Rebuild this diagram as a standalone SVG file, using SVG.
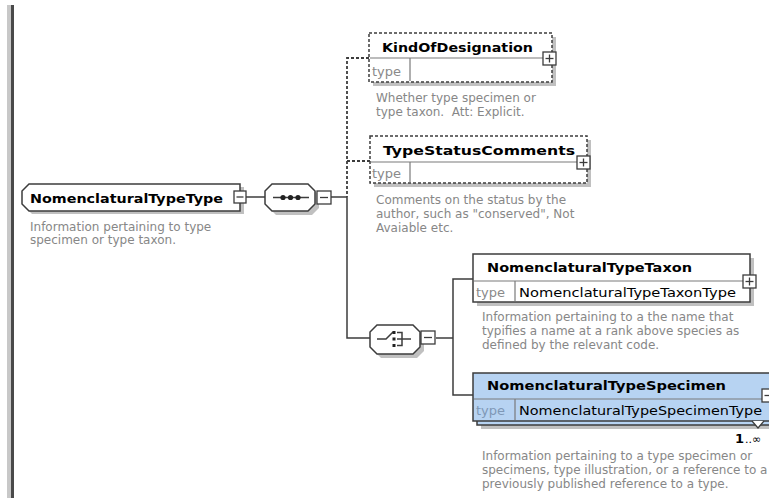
<svg xmlns="http://www.w3.org/2000/svg" width="769" height="498" viewBox="0 0 769 498">
  <style>
    .bg { fill: #ffffff; }
    .shadow { fill: #c0c0c0; stroke: none; }
    .box { fill: #ffffff; stroke: #3c3c3c; stroke-width: 1.5; }
    .opt { fill: #ffffff; stroke: #3c3c3c; stroke-width: 1.5; stroke-dasharray: 3 2; }
    .sel { fill: #b7d3f2; stroke: #3c3c3c; stroke-width: 1.5; }
    .sep { stroke: #7a7a7a; stroke-width: 1.2; fill: none; }
    .conn { stroke: #3c3c3c; stroke-width: 1.5; fill: none; }
    .dot { stroke: #3c3c3c; stroke-width: 1.8; fill: none; stroke-dasharray: 3 2; }
    .pm { fill: #ffffff; stroke: #3c3c3c; stroke-width: 1.3; }
    .pmline { stroke: #3c3c3c; stroke-width: 1.3; }
    .name { font-family: "DejaVu Sans", "Liberation Sans", sans-serif; font-weight: bold; font-size: 13px; fill: #000000; }
    .tlab { font-family: "DejaVu Sans", "Liberation Sans", sans-serif; font-size: 13px; fill: #8a8a8a; }
    .tval { font-family: "DejaVu Sans", "Liberation Sans", sans-serif; font-size: 12px; fill: #000000; }
    .desc { font-family: "DejaVu Sans", "Liberation Sans", sans-serif; font-size: 12px; fill: #878787; white-space: pre; }
    .occ { font-family: "DejaVu Sans", "Liberation Sans", sans-serif; font-size: 11px; fill: #000000; }
  </style>

  <rect class="bg" x="0" y="0" width="769" height="498"/>

  <!-- left frame bar -->
  <rect x="7" y="5" width="4" height="493" fill="#c8c8c8"/>
  <rect x="11" y="5" width="3" height="493" fill="#4a4a4a"/>

  <!-- connectors -->
  <g id="connectors">
    <line class="conn" x1="246" y1="197" x2="265" y2="197"/>
    <line class="conn" x1="331" y1="197" x2="347" y2="197"/>
    <polyline class="conn" points="347,197 347,338 370,338"/>
    <polyline class="dot" points="369,58 347,58 347,197"/>
    <line class="dot" x1="347" y1="161" x2="370" y2="161"/>
    <line class="conn" x1="436" y1="338" x2="453" y2="338"/>
    <polyline class="conn" points="473,279 453,279 453,395 473,395"/>
  </g>

  <!-- root complex type -->
  <g id="NomenclaturalTypeType">
    <polygon class="shadow" points="32,187 244,187 244,214 32,214 25,207 25,194"/>
    <polygon class="box" points="29,184 240,184 240,211 29,211 22,204 22,191"/>
    <text class="name" x="30" y="203" textLength="193" lengthAdjust="spacingAndGlyphs">NomenclaturalTypeType</text>
    <rect class="pm" x="234" y="191" width="12" height="12"/>
    <line class="pmline" x1="236.5" y1="197" x2="243.5" y2="197"/>
    <text class="desc" x="30" y="231">Information pertaining to type</text>
    <text class="desc" x="30" y="244">specimen or type taxon.</text>
  </g>

  <!-- sequence compositor -->
  <g id="sequence">
    <polygon class="shadow" points="276,188 312,188 319,195 319,208 312,215 276,215 269,208 269,195"/>
    <polygon class="box" points="272,184 308,184 315,191 315,204 308,211 272,211 265,204 265,191"/>
    <line class="conn" x1="273" y1="197.5" x2="309" y2="197.5"/>
    <circle cx="283" cy="197.5" r="2.6" fill="#222"/>
    <circle cx="290.5" cy="197.5" r="2.6" fill="#222"/>
    <circle cx="298" cy="197.5" r="2.6" fill="#222"/>
    <rect class="pm" x="317" y="191" width="14" height="13"/>
    <line class="pmline" x1="320" y1="197.5" x2="328" y2="197.5"/>
  </g>

  <!-- optional element: KindOfDesignation -->
  <g id="KindOfDesignation">
    <rect class="shadow" x="373" y="37" width="183" height="49"/>
    <rect class="opt" x="369" y="33" width="183" height="49"/>
    <line class="sep" x1="370" y1="58" x2="551" y2="58"/>
    <line class="sep" x1="410" y1="58" x2="410" y2="81"/>
    <text class="name" x="382" y="52" textLength="151" lengthAdjust="spacingAndGlyphs">KindOfDesignation</text>
    <text class="tlab" x="372" y="76">type</text>
    <rect class="pm" x="543" y="52" width="13" height="13"/>
    <line class="pmline" x1="545.5" y1="58.5" x2="553.5" y2="58.5"/>
    <line class="pmline" x1="549.5" y1="54.5" x2="549.5" y2="62.5"/>
    <text class="desc" x="376" y="102">Whether type specimen or</text>
    <text class="desc" x="376" y="116" xml:space="preserve">type taxon.  Att: Explicit.</text>
  </g>

  <!-- optional element: TypeStatusComments -->
  <g id="TypeStatusComments">
    <rect class="shadow" x="374" y="140" width="217" height="47"/>
    <rect class="opt" x="370" y="136" width="217" height="47"/>
    <line class="sep" x1="371" y1="162" x2="586" y2="162"/>
    <line class="sep" x1="410" y1="162" x2="410" y2="182"/>
    <text class="name" x="383" y="155" textLength="192" lengthAdjust="spacingAndGlyphs">TypeStatusComments</text>
    <text class="tlab" x="372" y="178">type</text>
    <rect class="pm" x="577" y="156" width="13" height="13"/>
    <line class="pmline" x1="579.5" y1="162.5" x2="587.5" y2="162.5"/>
    <line class="pmline" x1="583.5" y1="158.5" x2="583.5" y2="166.5"/>
    <text class="desc" x="376" y="204">Comments on the status by the</text>
    <text class="desc" x="376" y="218">author, such as "conserved", Not</text>
    <text class="desc" x="376" y="232">Avaiable etc.</text>
  </g>

  <!-- choice compositor -->
  <g id="choice">
    <polygon class="shadow" points="381,329 417,329 424,336 424,351 417,358 381,358 374,351 374,336"/>
    <polygon class="box" points="377,325 413,325 420,332 420,347 413,354 377,354 370,347 370,332"/>
    <polyline class="conn" points="377,339 386,339 393,332"/>
    <rect x="392.5" y="331" width="3" height="3" fill="#222"/>
    <rect x="392.5" y="337.5" width="3" height="3" fill="#222"/>
    <rect x="392.5" y="344" width="3" height="3" fill="#222"/>
    <polyline class="conn" points="397,332.5 402,332.5 402,345.5 397,345.5"/>
    <line class="conn" x1="397" y1="339" x2="411" y2="339"/>
    <rect class="pm" x="421" y="331" width="14" height="13"/>
    <line class="pmline" x1="424" y1="337.5" x2="432" y2="337.5"/>
  </g>

  <!-- element: NomenclaturalTypeTaxon -->
  <g id="NomenclaturalTypeTaxon">
    <rect class="shadow" x="477" y="258" width="277" height="48"/>
    <rect class="box" x="473" y="254" width="277" height="48"/>
    <line class="sep" x1="474" y1="281" x2="749" y2="281"/>
    <line class="sep" x1="515" y1="281" x2="515" y2="301"/>
    <text class="name" x="487" y="272" textLength="205" lengthAdjust="spacingAndGlyphs">NomenclaturalTypeTaxon</text>
    <text class="tlab" x="476" y="297">type</text>
    <text class="tval" x="519" y="297" textLength="217" lengthAdjust="spacingAndGlyphs">NomenclaturalTypeTaxonType</text>
    <rect class="pm" x="743" y="275" width="13" height="13"/>
    <line class="pmline" x1="745.5" y1="281.5" x2="753.5" y2="281.5"/>
    <line class="pmline" x1="749.5" y1="277.5" x2="749.5" y2="285.5"/>
    <text class="desc" x="482" y="321">Information pertaining to a the name that</text>
    <text class="desc" x="482" y="335">typifies a name at a rank above species as</text>
    <text class="desc" x="482" y="349">defined by the relevant code.</text>
  </g>

  <!-- element: NomenclaturalTypeSpecimen (repeating, selected) -->
  <g id="NomenclaturalTypeSpecimen">
    <rect class="shadow" x="481" y="381" width="300" height="48"/>
    <rect class="sel" x="477" y="377" width="300" height="48"/>
    <rect class="sel" x="473" y="373" width="300" height="48"/>
    <line class="sep" x1="474" y1="399" x2="769" y2="399"/>
    <line class="sep" x1="515" y1="399" x2="515" y2="420"/>
    <text class="name" x="487" y="390" textLength="239" lengthAdjust="spacingAndGlyphs">NomenclaturalTypeSpecimen</text>
    <text class="tlab" x="476" y="415" style="fill:#7f98b6">type</text>
    <text class="tval" x="519" y="415" textLength="243" lengthAdjust="spacingAndGlyphs">NomenclaturalTypeSpecimenType</text>
    <rect class="pm" x="762" y="389" width="13" height="13"/>
    <line class="pmline" x1="764.5" y1="395.5" x2="772.5" y2="395.5"/>
    <polyline class="conn" points="752,421 758,428 764,421" style="fill:#ffffff;stroke-width:1.2"/>
    <text class="occ" x="735" y="443"><tspan font-weight="bold" font-size="13px">1</tspan><tspan dx="1">..∞</tspan></text>
    <text class="desc" x="482" y="460">Information pertaining to a type specimen or</text>
    <text class="desc" x="482" y="474">specimens, type illustration, or a reference to a</text>
    <text class="desc" x="482" y="488">previously published reference to a type.</text>
  </g>
</svg>
